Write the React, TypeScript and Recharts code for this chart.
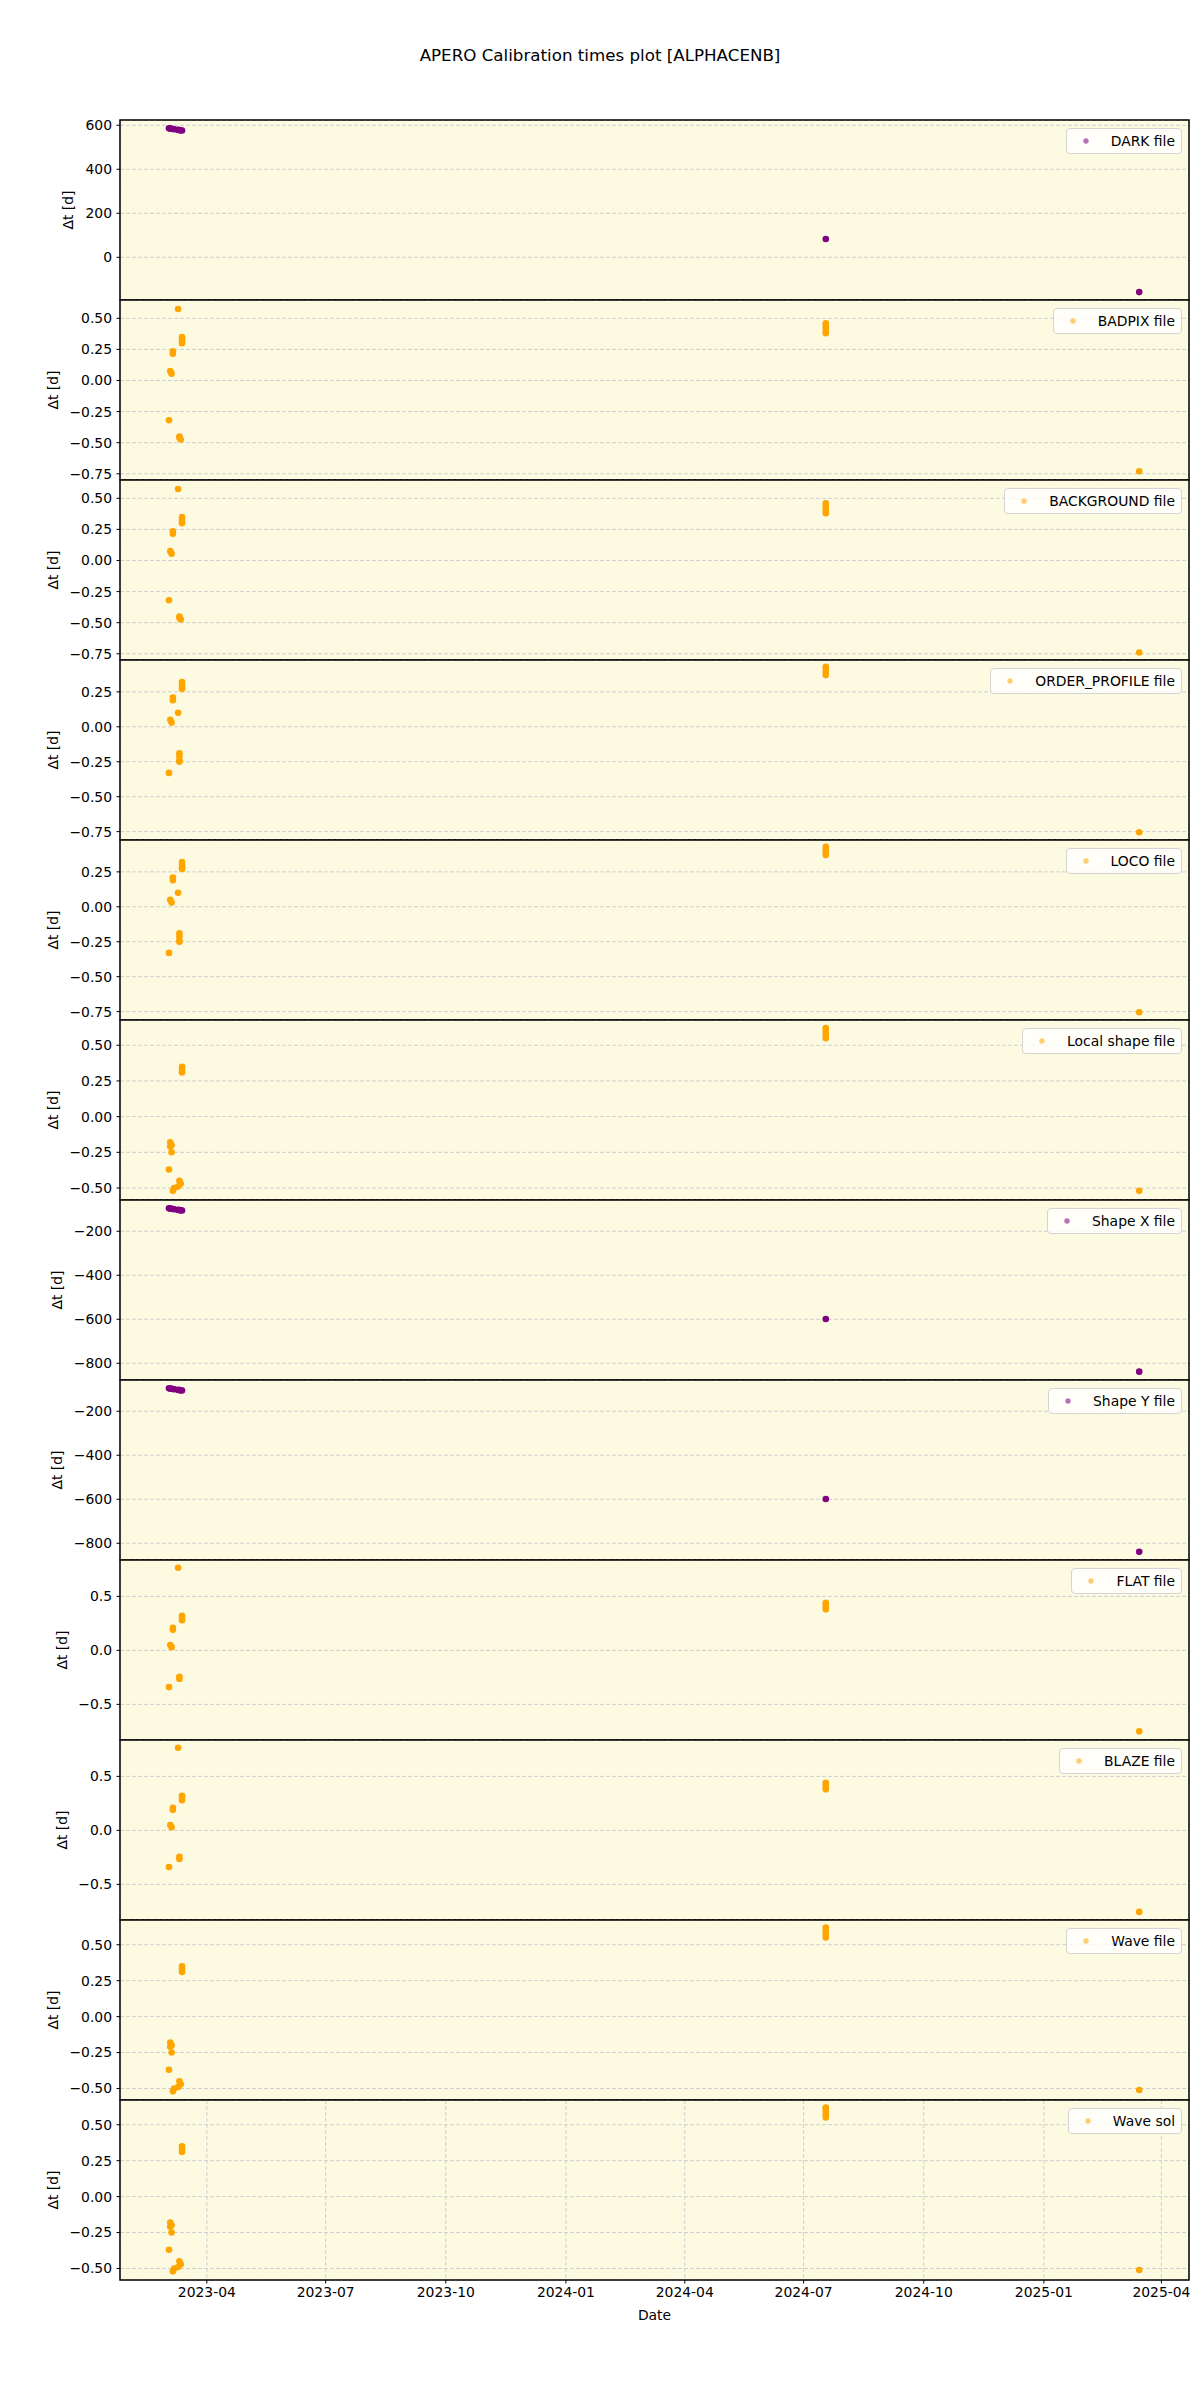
import { ScatterChart, Scatter, XAxis, YAxis, CartesianGrid, ReferenceArea, Legend } from 'recharts'

type Pt = [string, number]

// Δt values per calibration type
const darkFile: Pt[] = [
  ['2023-03-03', 586], ['2023-03-04', 585], ['2023-03-05', 584], ['2023-03-06', 583],
  ['2023-03-07', 582], ['2023-03-10', 579], ['2023-03-11', 578], ['2023-03-12', 577],
  ['2023-03-13', 576], ['2024-07-18', 83], ['2025-03-15', -158],
]

const badpixFile: Pt[] = [
  ['2023-03-03', -0.32],
  ['2023-03-04', 0.075], ['2023-03-05', 0.055],
  ['2023-03-06', 0.235], ['2023-03-06', 0.215],
  ['2023-03-10', 0.575],
  ['2023-03-11', -0.45], ['2023-03-11', -0.46], ['2023-03-12', -0.475],
  ['2023-03-13', 0.35], ['2023-03-13', 0.335], ['2023-03-13', 0.32], ['2023-03-13', 0.3],
  ['2024-07-18', 0.38], ['2024-07-18', 0.4], ['2024-07-18', 0.42], ['2024-07-18', 0.44], ['2024-07-18', 0.46],
  ['2025-03-15', -0.73],
]

const backgroundFile: Pt[] = [
  ['2023-03-03', -0.32],
  ['2023-03-04', 0.075], ['2023-03-05', 0.055],
  ['2023-03-06', 0.235], ['2023-03-06', 0.215],
  ['2023-03-10', 0.575],
  ['2023-03-11', -0.45], ['2023-03-11', -0.46], ['2023-03-12', -0.475],
  ['2023-03-13', 0.35], ['2023-03-13', 0.335], ['2023-03-13', 0.32], ['2023-03-13', 0.3],
  ['2024-07-18', 0.38], ['2024-07-18', 0.4], ['2024-07-18', 0.42], ['2024-07-18', 0.44], ['2024-07-18', 0.46],
  ['2025-03-15', -0.74],
]

const orderProfileFile: Pt[] = [
  ['2023-03-03', -0.33],
  ['2023-03-04', 0.05], ['2023-03-05', 0.03],
  ['2023-03-06', 0.21], ['2023-03-06', 0.19],
  ['2023-03-10', 0.1],
  ['2023-03-11', -0.19], ['2023-03-11', -0.21], ['2023-03-11', -0.24], ['2023-03-11', -0.25],
  ['2023-03-13', 0.32], ['2023-03-13', 0.3], ['2023-03-13', 0.28], ['2023-03-13', 0.27],
  ['2024-07-18', 0.37], ['2024-07-18', 0.39], ['2024-07-18', 0.41], ['2024-07-18', 0.43],
  ['2025-03-15', -0.755],
]

const locoFile: Pt[] = [
  ['2023-03-03', -0.33],
  ['2023-03-04', 0.05], ['2023-03-05', 0.03],
  ['2023-03-06', 0.21], ['2023-03-06', 0.19],
  ['2023-03-10', 0.1],
  ['2023-03-11', -0.19], ['2023-03-11', -0.21], ['2023-03-11', -0.24], ['2023-03-11', -0.25],
  ['2023-03-13', 0.32], ['2023-03-13', 0.3], ['2023-03-13', 0.28], ['2023-03-13', 0.27],
  ['2024-07-18', 0.37], ['2024-07-18', 0.39], ['2024-07-18', 0.41], ['2024-07-18', 0.43],
  ['2025-03-15', -0.755],
]

const localShapeFile: Pt[] = [
  ['2023-03-03', -0.37],
  ['2023-03-04', -0.18], ['2023-03-04', -0.21],
  ['2023-03-05', -0.2], ['2023-03-05', -0.25],
  ['2023-03-06', -0.52], ['2023-03-07', -0.5],
  ['2023-03-10', -0.49],
  ['2023-03-11', -0.45], ['2023-03-12', -0.47],
  ['2023-03-13', 0.35], ['2023-03-13', 0.33], ['2023-03-13', 0.31],
  ['2024-07-18', 0.55], ['2024-07-18', 0.57], ['2024-07-18', 0.59], ['2024-07-18', 0.61], ['2024-07-18', 0.62],
  ['2025-03-15', -0.52],
]

const shapeXFile: Pt[] = [
  ['2023-03-03', -96], ['2023-03-04', -97], ['2023-03-05', -98], ['2023-03-06', -99],
  ['2023-03-07', -100], ['2023-03-10', -103], ['2023-03-11', -104], ['2023-03-12', -105],
  ['2023-03-13', -106], ['2024-07-18', -599], ['2025-03-15', -838],
]

const shapeYFile: Pt[] = [
  ['2023-03-03', -96], ['2023-03-04', -97], ['2023-03-05', -98], ['2023-03-06', -99],
  ['2023-03-07', -100], ['2023-03-10', -103], ['2023-03-11', -104], ['2023-03-12', -105],
  ['2023-03-13', -106], ['2024-07-18', -599], ['2025-03-15', -839],
]

const flatFile: Pt[] = [
  ['2023-03-03', -0.34],
  ['2023-03-04', 0.05], ['2023-03-05', 0.03],
  ['2023-03-06', 0.21], ['2023-03-06', 0.19],
  ['2023-03-10', 0.765],
  ['2023-03-11', -0.245], ['2023-03-11', -0.265],
  ['2023-03-13', 0.32], ['2023-03-13', 0.3], ['2023-03-13', 0.28],
  ['2024-07-18', 0.38], ['2024-07-18', 0.4], ['2024-07-18', 0.42], ['2024-07-18', 0.44],
  ['2025-03-15', -0.75],
]

const blazeFile: Pt[] = [
  ['2023-03-03', -0.34],
  ['2023-03-04', 0.05], ['2023-03-05', 0.03],
  ['2023-03-06', 0.21], ['2023-03-06', 0.19],
  ['2023-03-10', 0.765],
  ['2023-03-11', -0.245], ['2023-03-11', -0.265],
  ['2023-03-13', 0.32], ['2023-03-13', 0.3], ['2023-03-13', 0.28],
  ['2024-07-18', 0.38], ['2024-07-18', 0.4], ['2024-07-18', 0.42], ['2024-07-18', 0.44],
  ['2025-03-15', -0.755],
]

const waveFile: Pt[] = [
  ['2023-03-03', -0.37],
  ['2023-03-04', -0.18], ['2023-03-04', -0.21],
  ['2023-03-05', -0.2], ['2023-03-05', -0.25],
  ['2023-03-06', -0.52], ['2023-03-07', -0.5],
  ['2023-03-10', -0.49],
  ['2023-03-11', -0.45], ['2023-03-12', -0.47],
  ['2023-03-13', 0.35], ['2023-03-13', 0.33], ['2023-03-13', 0.31],
  ['2024-07-18', 0.55], ['2024-07-18', 0.57], ['2024-07-18', 0.59], ['2024-07-18', 0.61], ['2024-07-18', 0.62],
  ['2025-03-15', -0.51],
]

const waveSol: Pt[] = [
  ['2023-03-03', -0.37],
  ['2023-03-04', -0.18], ['2023-03-04', -0.21],
  ['2023-03-05', -0.2], ['2023-03-05', -0.25],
  ['2023-03-06', -0.52], ['2023-03-07', -0.5],
  ['2023-03-10', -0.49],
  ['2023-03-11', -0.45], ['2023-03-12', -0.47],
  ['2023-03-13', 0.35], ['2023-03-13', 0.33], ['2023-03-13', 0.31],
  ['2024-07-18', 0.55], ['2024-07-18', 0.57], ['2024-07-18', 0.59], ['2024-07-18', 0.61], ['2024-07-18', 0.62],
  ['2025-03-15', -0.51],
]

const dateTicks = [
  '2023-04-01', '2023-07-01', '2023-10-01', '2024-01-01', '2024-04-01',
  '2024-07-01', '2024-10-01', '2025-01-01', '2025-04-01',
]

const PURPLE = '#800080'
const ORANGE = '#FFA500'
const BG = '#FCFBE2'
const FONT = 13.9

const toTs = (d: string) => Date.parse(d.includes('T') ? d + 'Z' : d + 'T00:00:00Z')
const X_MIN = toTs('2023-01-24T12:00')
const X_MAX = toTs('2025-04-22T03:00')
const xTicks = dateTicks.map(toTs)

const fmtDate = (v: number) => {
  const d = new Date(v)
  return `${d.getUTCFullYear()}-${String(d.getUTCMonth() + 1).padStart(2, '0')}`
}
const fmtNum = (digits: number) => (v: number) => {
  const s = Math.abs(v).toFixed(digits)
  return v < -1e-9 ? '\u2212' + s : s
}

const panels = [
  { name: 'DARK file', pts: darkFile, color: PURPLE, domain: [-194, 624], ticks: [0, 200, 400, 600], digits: 0, labelX: 68 },
  { name: 'BADPIX file', pts: badpixFile, color: ORANGE, domain: [-0.8, 0.647], ticks: [-0.75, -0.5, -0.25, 0, 0.25, 0.5], digits: 2, labelX: 53 },
  { name: 'BACKGROUND file', pts: backgroundFile, color: ORANGE, domain: [-0.8, 0.647], ticks: [-0.75, -0.5, -0.25, 0, 0.25, 0.5], digits: 2, labelX: 53 },
  { name: 'ORDER_PROFILE file', pts: orderProfileFile, color: ORANGE, domain: [-0.81, 0.478], ticks: [-0.75, -0.5, -0.25, 0, 0.25], digits: 2, labelX: 53 },
  { name: 'LOCO file', pts: locoFile, color: ORANGE, domain: [-0.81, 0.478], ticks: [-0.75, -0.5, -0.25, 0, 0.25], digits: 2, labelX: 53 },
  { name: 'Local shape file', pts: localShapeFile, color: ORANGE, domain: [-0.584, 0.677], ticks: [-0.5, -0.25, 0, 0.25, 0.5], digits: 2, labelX: 53 },
  { name: 'Shape X file', pts: shapeXFile, color: PURPLE, domain: [-876, -58], ticks: [-800, -600, -400, -200], digits: 0, labelX: 57 },
  { name: 'Shape Y file', pts: shapeYFile, color: PURPLE, domain: [-876, -58], ticks: [-800, -600, -400, -200], digits: 0, labelX: 57 },
  { name: 'FLAT file', pts: flatFile, color: ORANGE, domain: [-0.83, 0.837], ticks: [-0.5, 0, 0.5], digits: 1, labelX: 62 },
  { name: 'BLAZE file', pts: blazeFile, color: ORANGE, domain: [-0.83, 0.837], ticks: [-0.5, 0, 0.5], digits: 1, labelX: 62 },
  { name: 'Wave file', pts: waveFile, color: ORANGE, domain: [-0.58, 0.672], ticks: [-0.5, -0.25, 0, 0.25, 0.5], digits: 2, labelX: 53 },
  { name: 'Wave sol', pts: waveSol, color: ORANGE, domain: [-0.58, 0.672], ticks: [-0.5, -0.25, 0, 0.25, 0.5], digits: 2, labelX: 53 },
]

type PanelCfg = (typeof panels)[number]

function LegendBox({ name, color }: { name: string; color: string }) {
  return (
    <div
      style={{
        display: 'flex',
        alignItems: 'center',
        background: 'rgba(255,255,255,0.8)',
        border: '1px solid #d4d4d4',
        borderRadius: 4,
        padding: '4px 6px 4px 5px',
        fontSize: FONT,
        lineHeight: '16px',
        color: '#000',
        whiteSpace: 'nowrap',
      }}
    >
      <svg width={28} height={10} style={{ marginRight: 11 }}>
        <circle cx={14} cy={5} r={2.7} fill={color} fillOpacity={0.55} />
      </svg>
      <span>{name}</span>
    </div>
  )
}

function Panel({ p, index, last }: { p: PanelCfg; index: number; last: boolean }) {
  const data = p.pts.map(([d, v]) => ({ x: toTs(d), y: v }))
  return (
    <div style={{ position: 'absolute', left: 0, top: 120 + index * 180 }}>
      <ScatterChart
        width={1200}
        height={last ? 240 : 180}
        margin={{ top: 0, right: 11, bottom: last ? 30 : 0, left: 0 }}
      >
        <CartesianGrid stroke="#cfcfcf" strokeDasharray="4 2" fill={BG} fillOpacity={1} />
        <XAxis
          dataKey="x"
          type="number"
          domain={[X_MIN, X_MAX]}
          allowDataOverflow
          ticks={xTicks}
          interval={0}
          tickFormatter={fmtDate}
          height={last ? 30 : 0}
          axisLine={false}
          tick={last ? { fontSize: FONT, fill: '#000' } : false}
          tickLine={last ? { stroke: '#000' } : false}
          tickSize={3.5}
          tickMargin={4}
          label={
            last
              ? () => (
                  <text x={654.5} y={215} textAnchor="middle" dominantBaseline="central" fontSize={FONT} fill="#000">
                    Date
                  </text>
                )
              : undefined
          }
        />
        <YAxis
          dataKey="y"
          type="number"
          width={120}
          domain={p.domain}
          allowDataOverflow
          ticks={p.ticks}
          interval={0}
          tickFormatter={fmtNum(p.digits)}
          axisLine={false}
          tick={{ fontSize: FONT, fill: '#000' }}
          tickLine={{ stroke: '#000' }}
          tickSize={3.5}
          tickMargin={4.5}
          label={() => (
            <text
              x={p.labelX}
              y={90}
              transform={`rotate(-90 ${p.labelX} 90)`}
              textAnchor="middle"
              dominantBaseline="central"
              fontSize={FONT}
              fill="#000"
            >
              Δt [d]
            </text>
          )}
        />
        <ReferenceArea
          x1={X_MIN}
          x2={X_MAX}
          y1={p.domain[0]}
          y2={p.domain[1]}
          fill="none"
          stroke="#000"
          strokeWidth={1.5}
          ifOverflow="visible"
        />
        <Scatter
          data={data}
          isAnimationActive={false}
          shape={(s: any) => <circle cx={s.cx} cy={s.cy} r={3.3} fill={p.color} />}
        />
        <Legend
          layout="horizontal"
          verticalAlign="middle"
          align="center"
          wrapperStyle={{ top: 7.5, right: 18, left: 'auto', bottom: 'auto', width: 'auto', height: 'auto' }}
          content={() => <LegendBox name={p.name} color={p.color} />}
        />
      </ScatterChart>
    </div>
  )
}

export default function App() {
  return (
    <div
      style={{
        position: 'absolute',
        left: 0,
        top: 0,
        width: 1200,
        height: 2400,
        background: '#fff',
        fontFamily: '"DejaVu Sans", sans-serif',
      }}
    >
      <style>{'.recharts-surface, .recharts-wrapper { overflow: visible !important; }'}</style>
      <div
        style={{
          position: 'absolute',
          left: 0,
          top: 44,
          width: 1200,
          textAlign: 'center',
          fontSize: 16.7,
          lineHeight: '22px',
          color: '#000',
        }}
      >
        APERO Calibration times plot [ALPHACENB]
      </div>
      {panels.map((p, i) => (
        <Panel key={p.name} p={p} index={i} last={i === panels.length - 1} />
      ))}
    </div>
  )
}
